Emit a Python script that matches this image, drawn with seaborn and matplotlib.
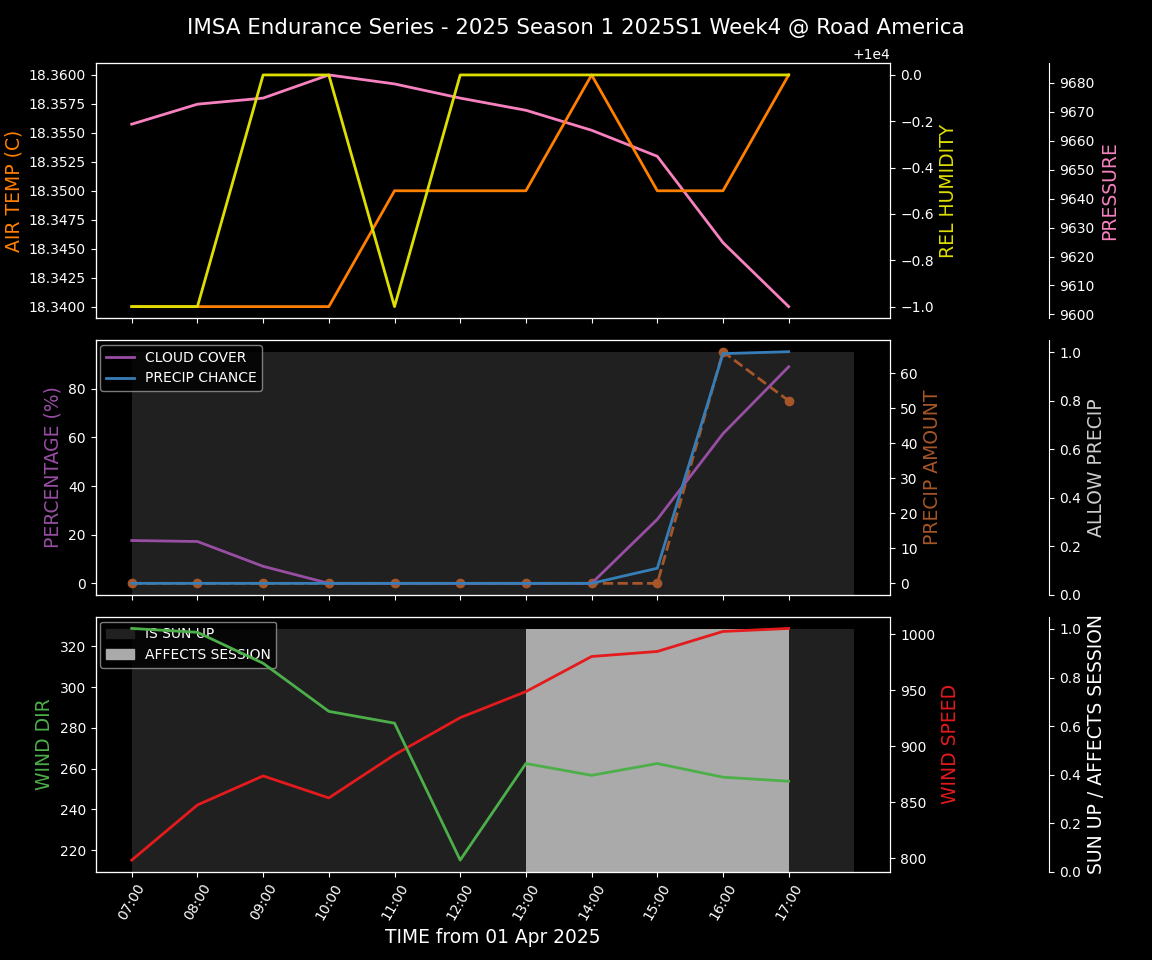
import pandas as pd
import matplotlib
matplotlib.use('Agg')
import matplotlib.pyplot as plt
import matplotlib.dates as mdates
from matplotlib.patches import Patch
import seaborn as sns

# Daten
times = pd.date_range('2025-04-01 07:00', periods=11, freq='h')
fill_times = pd.date_range('2025-04-01 07:00', periods=12, freq='h')

air_temp = [18.34, 18.34, 18.34, 18.34, 18.35, 18.35, 18.35, 18.36, 18.35, 18.35, 18.36]
rel_humidity = [9999, 9999, 10000, 10000, 9999, 10000, 10000, 10000, 10000, 10000, 10000]
pressure = [9665.7, 9672.6, 9674.7, 9682.7, 9679.6, 9674.7, 9670.5, 9663.6, 9654.6, 9624.8, 9602.7]

cloud_cover = [17.6, 17.2, 7.0, 0, 0, 0, 0, 0, 26.3, 61.5, 89.0]
precip_chance = [0, 0, 0, 0, 0, 0, 0, 0, 6.2, 94.4, 95.2]
precip_amount = [0, 0, 0, 0, 0, 0, 0, 0, 0, 66.1, 52.1]
allow_precip = [1, 1, 1, 1, 1, 1, 1, 1, 1, 1, 1, 1]

wind_dir = [328.8, 326.9, 311.7, 288.1, 282.3, 215.1, 262.5, 256.7, 262.5, 255.8, 253.8]
wind_speed = [798.2, 847.5, 873.5, 853.8, 892.4, 925.6, 948.9, 980.3, 984.8, 1002.7, 1005.4]
sun_up = [1, 1, 1, 1, 1, 1, 1, 1, 1, 1, 1, 1]
affects_session = [0, 0, 0, 0, 0, 0, 1, 1, 1, 1, 1, 0]

plt.style.use('dark_background')
lbl_size = 13.5

fig, axes = plt.subplots(3, 1, sharex=True, figsize=(11.52, 9.6), dpi=100)
fig.subplots_adjust(left=0.083, right=0.773, top=0.934, bottom=0.092, hspace=0.086)
fig.suptitle('IMSA Endurance Series - 2025 Season 1 2025S1 Week4 @ Road America',
             fontsize=15.4, y=0.971, va='center')


def make_twins(ax, right_on_top=False):
    ax_r = ax.twinx()
    ax_f = ax.twinx()
    ax_f.spines['right'].set_position(('axes', 1.2))
    ax_f.set_zorder(1)
    if right_on_top:
        ax.set_zorder(2)
        ax_r.set_zorder(3)
    else:
        ax_r.set_zorder(2)
        ax.set_zorder(3)
    ax.patch.set_visible(False)
    ax_r.patch.set_visible(False)
    return ax_r, ax_f


# Oben: Temperatur, Feuchte, Druck
ax = axes[0]
ax_r, ax_f = make_twins(ax, right_on_top=True)
sns.lineplot(x=times, y=air_temp, ax=ax, color='#ff7f00', lw=2)
sns.lineplot(x=times, y=rel_humidity, ax=ax_r, color='#dede00', lw=2)
sns.lineplot(x=times, y=pressure, ax=ax_f, color='#f781bf', lw=2)
ax.set_ylabel('AIR TEMP (C)', color='#ff7f00', fontsize=lbl_size)
ax_r.set_ylabel('REL HUMIDITY', color='#dede00', fontsize=lbl_size)
ax_f.set_ylabel('PRESSURE', color='#f781bf', fontsize=lbl_size)

# Mitte: Bewoelkung / Niederschlag
ax = axes[1]
ax_r, ax_f = make_twins(ax)
ax_f.fill_between(fill_times, 0, allow_precip, color='#202020', lw=0)
ax_f.set_ylim(0, 1.05)
sns.lineplot(x=times, y=cloud_cover, ax=ax, color='#984ea3', lw=2, label='CLOUD COVER')
sns.lineplot(x=times, y=precip_chance, ax=ax, color='#377eb8', lw=2, label='PRECIP CHANCE')
sns.lineplot(x=times, y=precip_amount, ax=ax_r, color='#a65628', lw=2,
             linestyle='--', marker='o', markersize=7, markeredgewidth=0)
ax.legend(loc='upper left', fontsize=10, facecolor='black', edgecolor='0.6',
          borderaxespad=0.35)
ax.set_ylabel('PERCENTAGE (%)', color='#984ea3', fontsize=lbl_size)
ax_r.set_ylabel('PRECIP AMOUNT', color='#a65628', fontsize=lbl_size)
ax_f.set_ylabel('ALLOW PRECIP', color='#cccccc', fontsize=lbl_size)

# Unten: Wind
ax = axes[2]
ax_r, ax_f = make_twins(ax)
aff = pd.Series(affects_session)
ax_f.fill_between(fill_times, 0, sun_up, color='#202020', lw=0)
ax_f.fill_between(fill_times, 0, affects_session, where=(aff > 0).values,
                  color='#aaaaaa', lw=0)
ax_f.set_ylim(0, 1.05)
sns.lineplot(x=times, y=wind_dir, ax=ax, color='#4daf4a', lw=2)
sns.lineplot(x=times, y=wind_speed, ax=ax_r, color='#e41a1c', lw=2)
ax_f.legend(handles=[Patch(color='#202020', label='IS SUN UP'),
                     Patch(color='#aaaaaa', label='AFFECTS SESSION')],
            loc='upper left', fontsize=10, facecolor='black', edgecolor='0.6',
            borderaxespad=0.35)
ax.set_ylabel('WIND DIR', color='#4daf4a', fontsize=lbl_size)
ax_r.set_ylabel('WIND SPEED', color='#e41a1c', fontsize=lbl_size)
ax_f.set_ylabel('SUN UP / AFFECTS SESSION', color='white', fontsize=lbl_size)

ax.set_xticks(times)
ax.xaxis.set_major_formatter(mdates.DateFormatter('%H:%M'))
plt.setp(ax.get_xticklabels(), rotation=60)
ax.set_xlabel('TIME from 01 Apr 2025', fontsize=13.4)

plt.savefig('out.png', dpi=100, facecolor='black')
